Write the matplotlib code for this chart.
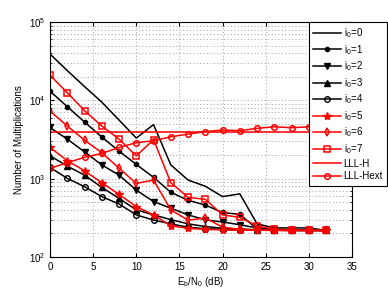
import numpy as np
import matplotlib
matplotlib.use("Agg")
import matplotlib.pyplot as plt

plt.rcParams['font.family'] = ['Liberation Sans', 'DejaVu Sans']
plt.rcParams['mathtext.fontset'] = 'custom'
plt.rcParams['mathtext.rm'] = 'Liberation Sans'
plt.rcParams['mathtext.it'] = 'Liberation Sans'

# Eb/N0 (dB)
snr = [0, 2, 4, 6, 8, 10, 12, 14, 16, 18, 20, 22, 24, 26, 28, 30, 32]

# nombre de multiplications
i0_0 = [39000, 24000, 15000, 9500, 5600, 3300, 4900, 1500, 960, 800, 590, 640, 265, 235, 235, 235, 218]
i0_1 = [13100, 8300, 5300, 3400, 2250, 1520, 1040, 670, 530, 460, 370, 350, 228, 225, 222, 222, 218]
i0_2 = [4500, 3200, 2200, 1500, 1110, 715, 510, 420, 345, 298, 280, 258, 235, 225, 222, 220, 218]
i0_3 = [1960, 1450, 1110, 775, 560, 400, 345, 300, 265, 245, 233, 228, 222, 220, 220, 218, 218]
i0_4 = [1390, 1010, 790, 590, 475, 345, 296, 265, 240, 230, 225, 222, 220, 220, 218, 218, 218]
i0_5 = [2500, 1700, 1260, 890, 630, 440, 345, 250, 232, 225, 222, 220, 220, 218, 218, 218, 218]
i0_6 = [7300, 4700, 3100, 2150, 1360, 870, 960, 400, 295, 315, 240, 225, 222, 220, 218, 218, 218]
i0_7 = [21000, 12500, 7400, 4700, 3200, 1950, 3150, 890, 577, 545, 345, 320, 250, 225, 222, 220, 218]
lll_h = [3900, 3900, 3900, 3900, 3900, 3900, 3900, 3900, 3900, 3900, 3900, 3900, 3900, 3900, 3900, 3900, 3900]
lll_hext = [1350, 1600, 1870, 2100, 2500, 2880, 3050, 3430, 3700, 3990, 4180, 4100, 4390, 4600, 4470, 4600, 4600]

fig = plt.figure(figsize=(3.88, 2.92), dpi=100)
ax = fig.add_axes([50 / 388, 35 / 292, 302 / 388, 235 / 292])

red = '#ff0000'
lw = 1.1
ms = 4
ax.semilogy(snr, i0_0, color='k', lw=lw, label='i$_0$=0')
ax.semilogy(snr, i0_1, color='k', lw=lw, marker='.', ms=6, label='i$_0$=1')
ax.semilogy(snr, i0_2, color='k', lw=lw, marker='v', ms=ms, label='i$_0$=2')
ax.semilogy(snr, i0_3, color='k', lw=lw, marker='^', ms=ms, label='i$_0$=3')
ax.semilogy(snr, i0_4, color='k', lw=lw, marker='o', ms=ms, mfc='none', label='i$_0$=4')
ax.semilogy(snr, i0_5, color=red, lw=lw, marker='*', ms=6, label='i$_0$=5')
ax.semilogy(snr, i0_6, color=red, lw=lw, marker='d', ms=ms, mfc='none', mew=1.1, label='i$_0$=6')
ax.semilogy(snr, i0_7, color=red, lw=lw, marker='s', ms=ms, mfc='none', mew=1.1, label='i$_0$=7')
ax.semilogy(snr, lll_h, color=red, lw=lw, label='LLL-H')
ax.semilogy(snr, lll_hext, color=red, lw=lw, marker='o', ms=ms, mfc='none', mew=1.1, label='LLL-Hext')

ax.set_xlim(0, 35)
ax.set_ylim(1e2, 1e5)
ax.set_xticks(np.arange(0, 36, 5))
ax.tick_params(which='both', direction='in', top=True, right=True, labelsize=7)
ax.tick_params(which='major', length=3)
ax.tick_params(which='minor', length=1.5)
ax.grid(True, which='major', ls=(0, (1, 2.5)), color='#a0a0a0', lw=0.7)
ax.grid(True, which='minor', axis='y', ls=(0, (1, 2.5)), color='#a0a0a0', lw=0.7)
for s in ax.spines.values():
    s.set_linewidth(0.8)

ax.set_xlabel('E$_b$/N$_0$ (dB)', fontsize=7, labelpad=2)
ax.set_ylabel('Number of Multiplications', fontsize=7, labelpad=3)

leg = ax.legend(loc='upper left', bbox_to_anchor=(309 / 388, 1 - 22 / 292),
                bbox_transform=fig.transFigure, fontsize=7, fancybox=False,
                framealpha=1, edgecolor='k', handlelength=2.8, handletextpad=0.3,
                labelspacing=0.28, borderpad=0.45, borderaxespad=0)
leg.get_frame().set_linewidth(0.8)

fig.savefig('out.png', dpi=100)
